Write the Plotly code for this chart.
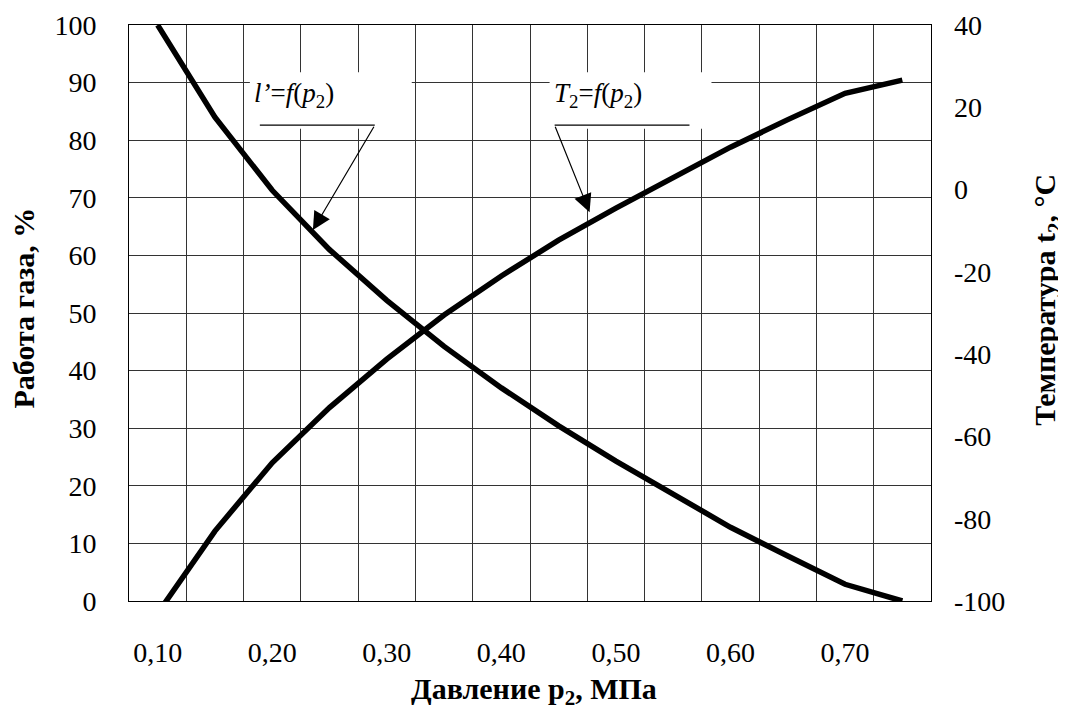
import plotly.graph_objects as go

# ---- data ----
pressure = [0.10, 0.15, 0.20, 0.25, 0.30, 0.35, 0.40, 0.45, 0.50, 0.55, 0.60, 0.65, 0.70, 0.75]
work_pct = [100, 84, 71.3, 61, 52.2, 44.2, 37, 30.4, 24.3, 18.6, 12.8, 7.8, 2.9, 0]
temp_c = [-103, -83, -66.4, -53, -41.2, -30.5, -21, -12.3, -4.5, 3, 10.3, 17, 23.4, 26.6]

x_tickvals = [0.10, 0.20, 0.30, 0.40, 0.50, 0.60, 0.70]
x_ticktext = ["0,10", "0,20", "0,30", "0,40", "0,50", "0,60", "0,70"]
x_gridvals = [0.125, 0.175, 0.225, 0.275, 0.325, 0.375, 0.425, 0.475, 0.525, 0.575, 0.625, 0.675, 0.725]
y2_tickvals = [-100, -80, -60, -40, -20, 0, 20, 40]
y2_ticktext = ["-100", "-80", "-60", "-40", "-20", "0", "20", "40"]

FONT = "Liberation Serif, Times New Roman, DejaVu Serif, serif"
GRID = "#333333"

fig = go.Figure()
fig.add_trace(go.Scatter(x=pressure, y=work_pct, mode="lines",
                         line=dict(color="black", width=5.5), yaxis="y", showlegend=False))
fig.add_trace(go.Scatter(x=pressure, y=temp_c, mode="lines",
                         line=dict(color="black", width=5.5), yaxis="y2", showlegend=False))

fig.update_layout(
    width=1066, height=711,
    margin=dict(l=121, r=143, t=17, b=118, autoexpand=False),
    paper_bgcolor="white", plot_bgcolor="white",
    font=dict(family=FONT, size=28, color="black"),
    xaxis=dict(range=[0.075, 0.775], tickmode="array", tickvals=x_tickvals, ticktext=x_ticktext,
               showgrid=False, zeroline=False, showline=True, linecolor="black", linewidth=1,
               mirror=True, ticks="", ticklabelstandoff=26, automargin=False,
               minor=dict(tickmode="array", tickvals=x_gridvals, showgrid=True,
                          gridcolor=GRID, gridwidth=1, ticks="")),
    yaxis=dict(range=[0, 100], dtick=10, showgrid=True, gridcolor=GRID, gridwidth=1,
               zeroline=False, showline=True, linecolor="black", linewidth=1, mirror=True,
               ticks="", ticklabelstandoff=26, automargin=False),
    yaxis2=dict(range=[-100, 40], tickmode="array", tickvals=y2_tickvals, ticktext=y2_ticktext,
                overlaying="y", side="right", showgrid=False, zeroline=False,
                showline=False, ticks="", ticklabelstandoff=22, automargin=False),
)

# white label boxes, underlines
for x0, x1 in [(0.1805, 0.3218), (0.4421, 0.5834)]:
    fig.add_shape(type="rect", xref="x", yref="y", x0=x0, x1=x1, y0=82.0, y1=91.8,
                  fillcolor="white", line=dict(width=0), layer="between")
fig.add_shape(type="line", xref="x", yref="y", x0=0.1892, x1=0.2895, y0=82.6, y1=82.6,
              line=dict(color="black", width=1.3))
fig.add_shape(type="line", xref="x", yref="y", x0=0.4465, x1=0.5642, y0=82.6, y1=82.6,
              line=dict(color="black", width=1.3))

# labels
fig.add_annotation(x=0.2193, y=87.8, xref="x", yref="y", showarrow=False,
                   text="<i>l’</i>=<i>f</i>(<i>p</i><sub>2</sub>)", font=dict(size=27))
fig.add_annotation(x=0.4844, y=87.8, xref="x", yref="y", showarrow=False,
                   text="<i>T</i><sub>2</sub>=<i>f</i>(<i>p</i><sub>2</sub>)", font=dict(size=27))

# arrows
fig.add_annotation(x=0.2355, y=64.4, ax=0.2895, ay=82.6, xref="x", yref="y", axref="x", ayref="y",
                   text="", showarrow=True, arrowhead=2, arrowsize=3, arrowwidth=1.2,
                   arrowcolor="black", standoff=0)
fig.add_annotation(x=0.477, y=67.5, ax=0.4465, ay=82.6, xref="x", yref="y", axref="x", ayref="y",
                   text="", showarrow=True, arrowhead=2, arrowsize=3, arrowwidth=1.2,
                   arrowcolor="black", standoff=0)

# axis titles
fig.add_annotation(x=0.505, y=-0.156, xref="paper", yref="paper", showarrow=False,
                   text="<b>Давление p<sub>2</sub>, МПа</b>", font=dict(size=30),
                   xanchor="center", yanchor="middle")
fig.add_annotation(x=-0.132, y=0.508, xref="paper", yref="paper", showarrow=False,
                   text="<b>Работа газа, %</b>", font=dict(size=30), textangle=-90,
                   xanchor="center", yanchor="middle")
fig.add_annotation(x=1.1446, y=0.523, xref="paper", yref="paper", showarrow=False,
                   text="<b>Температура t<sub>2</sub>, °C</b>", font=dict(size=30), textangle=-90,
                   xanchor="center", yanchor="middle")

fig.write_html("out.html")
